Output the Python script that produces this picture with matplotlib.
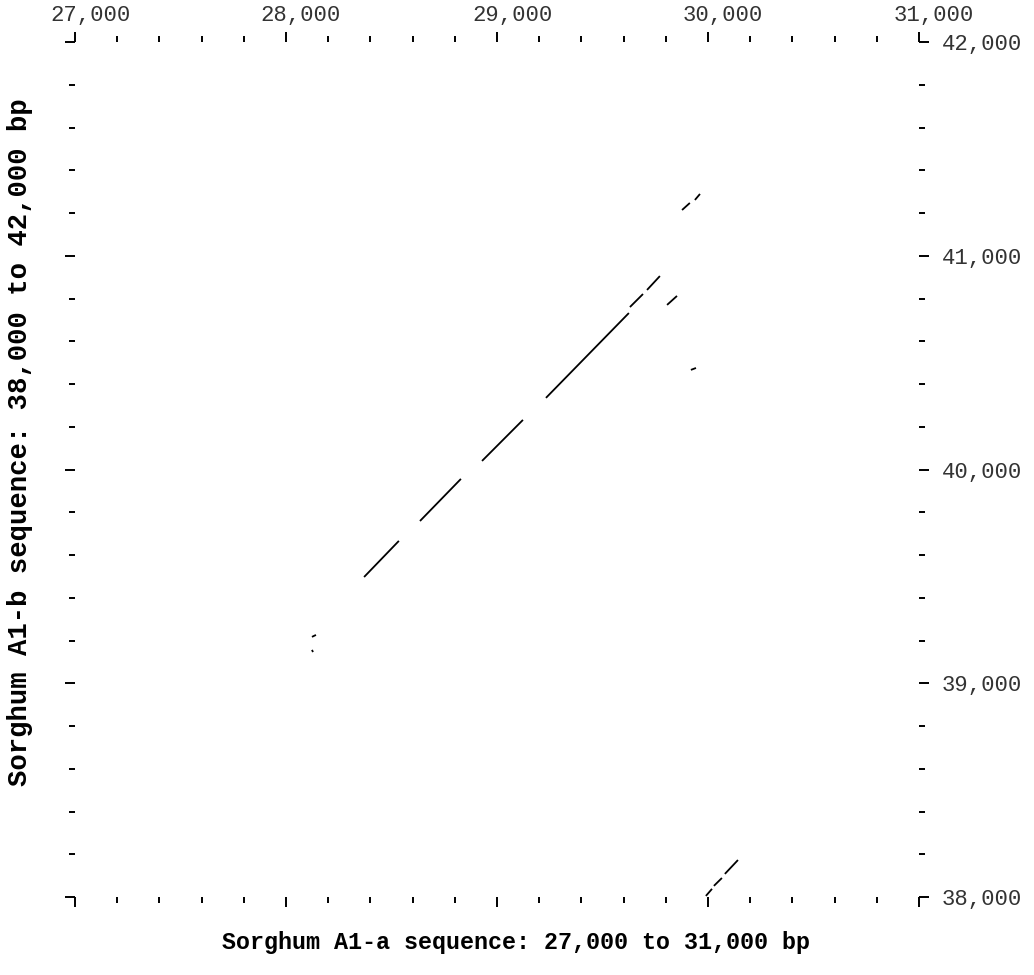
import matplotlib
matplotlib.use('Agg')
import matplotlib.pyplot as plt
import matplotlib.transforms as mtransforms
from matplotlib.ticker import MultipleLocator, FuncFormatter

# alignment fragments, (x1, y1, x2, y2) in bp
seg_x1 = [28370, 28635, 28929, 29232, 29630, 29711, 29806, 29877, 29938, 29919, 28123, 28123, 29990, 30028, 30080]
seg_y1 = [39497, 39759, 40040, 40335, 40760, 40840, 40770, 41214, 41261, 40466, 39217, 39156, 38005, 38052, 38108]
seg_x2 = [28535, 28829, 29123, 29625, 29692, 29772, 29853, 29914, 29962, 29943, 28142, 28128, 30019, 30066, 30142]
seg_y2 = [39666, 39956, 40232, 40732, 40821, 40905, 40812, 41247, 41289, 40475, 39226, 39146, 38038, 38089, 38173]

x_range = (27000, 31000)
y_range = (38000, 42000)
x_label = 'Sorghum A1-a sequence: 27,000 to 31,000 bp'
y_label = 'Sorghum A1-b sequence: 38,000 to 42,000 bp'

font = 'Liberation Mono'

fig = plt.figure(figsize=(10.34, 9.75), dpi=100)
ax = fig.add_axes([75 / 1034, 1 - 897 / 975, 844 / 1034, 855 / 975])

for i in range(len(seg_x1)):
    ax.plot([seg_x1[i], seg_x2[i]], [seg_y1[i], seg_y2[i]], color='black', lw=1.3,
            solid_capstyle='butt')

ax.set_xlim(*x_range)
ax.set_ylim(*y_range)
for s in ax.spines.values():
    s.set_visible(False)

ax.xaxis.set_major_locator(MultipleLocator(1000))
ax.xaxis.set_minor_locator(MultipleLocator(200))
ax.yaxis.set_major_locator(MultipleLocator(1000))
ax.yaxis.set_minor_locator(MultipleLocator(200))
fmt = FuncFormatter(lambda v, p: '{:,}'.format(int(v)))
ax.xaxis.set_major_formatter(fmt)
ax.yaxis.set_major_formatter(fmt)

ax.tick_params(which='both', direction='out', top=True, bottom=True, left=True, right=True,
               labeltop=True, labelbottom=False, labelleft=False, labelright=True,
               width=1.4, color='black', labelcolor='#333333')
ax.tick_params(which='major', length=7.5)
ax.tick_params(which='minor', length=4)
ax.tick_params(axis='x', which='major', pad=4, labelsize=16)
ax.tick_params(axis='y', which='major', pad=9, labelsize=16)

for lab in ax.get_xticklabels() + ax.get_yticklabels():
    lab.set_fontfamily(font)

# top labels sit a little right of their ticks
offset = mtransforms.ScaledTranslation(0.15, 0, fig.dpi_scale_trans)
for lab in ax.get_xticklabels():
    lab.set_transform(lab.get_transform() + offset)

fig.text(516 / 1034, 1 - 942 / 975, x_label, ha='center', va='center',
         fontfamily=font, fontweight='bold', fontsize=16.8)
fig.text(20 / 1034, 1 - 442 / 975, y_label, ha='center', va='center', rotation=90,
         fontfamily=font, fontweight='bold', fontsize=19.6)

fig.savefig('out.png', dpi=100, facecolor='white')
